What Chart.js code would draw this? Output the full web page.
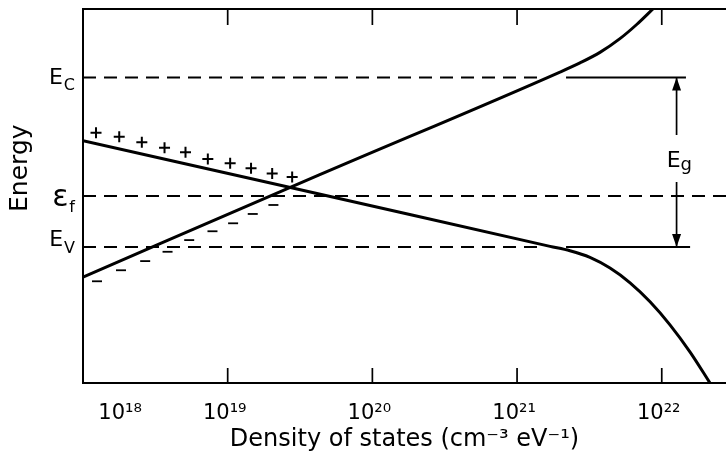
<!DOCTYPE html>
<html>
<head>
<meta charset="utf-8">
<script src="https://cdn.jsdelivr.net/npm/chart.js@4"></script>
<style>
  html, body { margin: 0; padding: 0; background: #fff; }
</style>
</head>
<body>
<canvas id="myChart" width="726" height="457"></canvas>
<script>
// energy in units of the gap: Ev = 0, Ec = 1
const condDensity = [1.0e18, 4.29e19, 1.98e21, 2.72e21, 3.74e21, 5.14e21, 6.74e21, 8.69e21];
const condEnergy  = [-0.177, 0.425, 1.032, 1.086, 1.148, 1.229, 1.314, 1.404];

const valDensity = [1.0e18, 4.29e19, 1.69e21, 2.32e21, 3.19e21, 4.39e21, 6.04e21, 8.30e21, 1.14e22, 1.57e22, 2.155e22];
const valEnergy  = [0.627, 0.313, 0.004, -0.022, -0.061, -0.124, -0.211, -0.323, -0.459, -0.620, -0.802];

const plusDensity = [1.23e18, 1.78e18, 2.55e18, 3.66e18, 5.11e18, 7.29e18, 1.04e19, 1.45e19, 2.03e19, 2.79e19];
const plusEnergy  = [0.674, 0.651, 0.618, 0.586, 0.559, 0.519, 0.494, 0.464, 0.434, 0.413];

const minusDensity = [1.25e18, 1.83e18, 2.69e18, 3.84e18, 5.42e18, 7.85e18, 1.09e19, 1.49e19, 2.07e19];
const minusEnergy  = [-0.202, -0.137, -0.083, -0.028, 0.041, 0.093, 0.140, 0.195, 0.248];

const levelEnergy = { Ec: 1.0, Ef: 0.301, Ev: 0.0 };
const dashEnd = 1.51e21;
const solidStart = 2.18e21;
const solidEndEc = 1.47e22;
const solidEndEv = 1.57e22;
const gapArrowX = 1.266e22;
const gapTop = 0.661, gapBottom = 0.383;

const xTicks = [1e18, 1e19, 1e20, 1e21, 1e22];
const xTickLabels = ['            10¹⁸', '10¹⁹', '10²⁰', '10²¹', '10²²'];
const xMin = 1e18, xMax = 2.78e22;
const yMin = -0.802, yMax = 1.404;

const pts = (xs, ys) => xs.map((v, i) => ({ x: v, y: ys[i] }));
const hline = (x0, x1, e) => [{ x: x0, y: e }, { x: x1, y: e }];

Chart.defaults.font.family = "'DejaVu Sans', sans-serif";
Chart.defaults.color = '#000';

const lineStyle = { borderColor: '#000', pointRadius: 0, fill: false };
const dashStyle = { ...lineStyle, borderWidth: 1.9, borderDash: [13, 8] };

const data = {
    datasets: [
        { ...lineStyle, data: pts(condDensity, condEnergy), borderWidth: 3, cubicInterpolationMode: 'monotone' },
        { ...lineStyle, data: pts(valDensity, valEnergy), borderWidth: 3, cubicInterpolationMode: 'monotone' },
        { data: pts(plusDensity, plusEnergy), showLine: false, pointStyle: 'cross', pointRadius: 5.5,
          pointBorderWidth: 2, borderColor: '#000', backgroundColor: '#000' },
        { data: pts(minusDensity, minusEnergy), showLine: false, pointStyle: 'line', pointRadius: 5,
          pointBorderWidth: 1.8, borderColor: '#000', backgroundColor: '#000' },
        { ...dashStyle, data: hline(xMin, dashEnd, levelEnergy.Ec) },
        { ...dashStyle, data: hline(xMin, dashEnd, levelEnergy.Ev) },
        { ...dashStyle, data: hline(xMin, xMax, levelEnergy.Ef) },
        { ...lineStyle, borderWidth: 1.9, data: hline(solidStart, solidEndEc, levelEnergy.Ec) },
        { ...lineStyle, borderWidth: 1.9, data: hline(solidStart, solidEndEv, levelEnergy.Ev) },
        { ...lineStyle, borderWidth: 1.7, data: [{ x: gapArrowX, y: levelEnergy.Ec }, { x: gapArrowX, y: gapTop }] },
        { ...lineStyle, borderWidth: 1.7, data: [{ x: gapArrowX, y: gapBottom }, { x: gapArrowX, y: levelEnergy.Ev }] },
    ]
};

// level labels, gap arrow heads, inward decade ticks
const extras = {
    id: 'extras',
    afterDraw(chart) {
        const { ctx, chartArea: a, scales: { x, y } } = chart;
        ctx.save();
        ctx.strokeStyle = '#000';
        ctx.fillStyle = '#000';
        ctx.lineWidth = 1.7;
        xTicks.forEach(v => {
            const px = x.getPixelForValue(v);
            if (px < a.left + 2) return;
            ctx.beginPath();
            ctx.moveTo(px, a.bottom); ctx.lineTo(px, a.bottom - 15);
            ctx.moveTo(px, a.top); ctx.lineTo(px, a.top + 16);
            ctx.stroke();
        });

        const ax = x.getPixelForValue(gapArrowX);
        const yc = y.getPixelForValue(levelEnergy.Ec);
        const yv = y.getPixelForValue(levelEnergy.Ev);
        ctx.beginPath();
        ctx.moveTo(ax, yc); ctx.lineTo(ax - 4.5, yc + 13); ctx.lineTo(ax + 4.5, yc + 13); ctx.closePath();
        ctx.moveTo(ax, yv); ctx.lineTo(ax - 4.5, yv - 13); ctx.lineTo(ax + 4.5, yv - 13); ctx.closePath();
        ctx.fill();

        // Eg between the two shafts
        const ym = (y.getPixelForValue(gapTop) + y.getPixelForValue(gapBottom)) / 2;
        ctx.textBaseline = 'alphabetic';
        ctx.font = "22px 'DejaVu Sans'";
        ctx.textAlign = 'right';
        ctx.fillText('E', ax + 4, ym + 8);
        ctx.font = "18px 'DejaVu Sans'";
        ctx.textAlign = 'left';
        ctx.fillText('g', ax + 4, ym + 11);

        const labels = [
            ['E', 'C', levelEnergy.Ec, 7, 13, 22],
            ['ε', 'f', levelEnergy.Ef, 10, 16, 30],
            ['E', 'V', levelEnergy.Ev, -1, 6, 22]
        ];
        labels.forEach(([main, sub, e, dMain, dSub, size]) => {
            const py = y.getPixelForValue(e);
            ctx.font = "16px 'DejaVu Sans'";
            const w = ctx.measureText(sub).width;
            const sx = a.left - 8 - w;
            ctx.textAlign = 'left';
            ctx.fillText(sub, sx, py + dSub);
            ctx.font = size + "px 'DejaVu Sans'";
            ctx.textAlign = 'right';
            ctx.fillText(main, sx - 1, py + dMain);
        });
        ctx.restore();
    }
};

const config = {
    type: 'line',
    data: data,
    plugins: [extras],
    options: {
        responsive: false,
        animation: false,
        layout: { padding: 0, autoPadding: false },
        plugins: { legend: { display: false }, tooltip: { enabled: false } },
        scales: {
            x: {
                type: 'logarithmic',
                min: xMin,
                max: xMax,
                afterBuildTicks: (s) => { s.ticks = xTicks.map(v => ({ value: v })); },
                afterFit: (s) => { s.height = 74; s.paddingLeft = 0; s.paddingRight = 0; },
                grid: { display: false },
                border: { display: true, color: '#000', width: 2 },
                ticks: {
                    autoSkip: false, maxRotation: 0, padding: 10, labelOffset: -3,
                    font: { size: 21 },
                    callback: (v, i) => xTickLabels[i]
                },
                title: {
                    display: true,
                    text: 'Density of states (cm⁻³ eV⁻¹)',
                    font: { size: 24 },
                    padding: { top: 0, bottom: 3 }
                }
            },
            xTop: {
                type: 'logarithmic',
                position: 'top',
                min: xMin,
                max: xMax,
                afterFit: (s) => { s.height = 9; s.paddingLeft = 0; s.paddingRight = 0; },
                grid: { display: false },
                ticks: { display: false },
                border: { display: true, color: '#000', width: 2 }
            },
            y: {
                type: 'linear',
                min: yMin,
                max: yMax,
                afterFit: (s) => { s.width = 83; },
                grid: { display: false },
                ticks: { display: false },
                border: { display: true, color: '#000', width: 2 },
                title: {
                    display: true,
                    text: '       Energy',
                    font: { size: 25 },
                    padding: { top: 5, bottom: 0 }
                }
            }
        }
    }
};

const myChart = new Chart(
    document.getElementById('myChart'),
    config
);
</script>
</body>
</html>
